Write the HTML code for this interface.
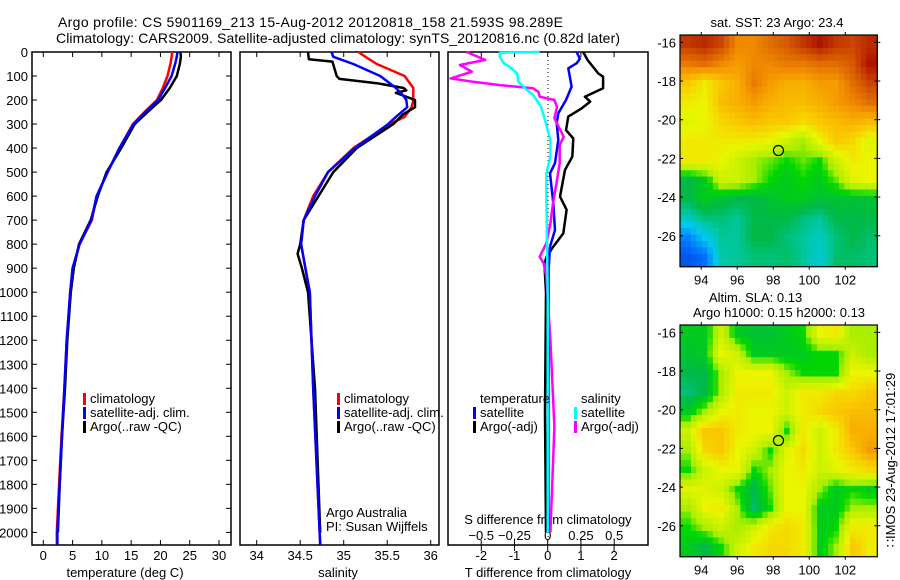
<!DOCTYPE html>
<html><head><meta charset="utf-8"><style>
body{margin:0;background:#fff;}
svg{display:block;font-family:"Liberation Sans",sans-serif;}
</style></head><body>
<svg id="fig" width="900" height="580" viewBox="0 0 900 580">
<rect width="900" height="580" fill="#fff"/>
<text x="58" y="27" font-size="14" textLength="505">Argo profile: CS 5901169_213 15-Aug-2012 20120818_158 21.593S 98.289E</text>
<text x="56" y="43" font-size="14" textLength="564">Climatology: CARS2009. Satellite-adjusted climatology: synTS_20120816.nc (0.82d later)</text>
<g id="g"></g>
</svg>
<script>
// ---------- data ----------
const tempDepth=[0,20,50,100,150,200,250,300,400,500,600,700,800,900,1000,1200,1400,1600,1800,2000];
const tempArgo=[23.4,23.5,23.3,22.8,21.6,20.1,17.8,15.6,13.3,10.8,9.3,8.1,6.1,5.2,4.7,4.1,3.7,3.2,2.8,2.5];
const tempClimDepth=[0,20,50,100,150,200,250,300,400,500,600,700,800,900,1000,1200,1400,1600,1800,2000,2050];
const tempClim=[22.0,21.9,21.7,21.2,20.4,19.4,17.3,15.3,13.0,11.0,9.1,8.3,6.2,5.0,4.6,4.0,3.6,3.1,2.7,2.3,2.3];
const tempSat=[22.9,22.8,22.5,21.9,20.8,19.6,17.4,15.4,13.0,11.0,9.1,8.2,6.2,5.0,4.6,4.0,3.6,3.2,2.8,2.4,2.4];
const salArgoDepth=[0,30,40,100,112,130,150,160,170,200,230,260,300,400,500,600,700,800,840,900,1000,1400,2000];
const salArgo=[34.59,34.6,34.87,34.92,34.95,35.38,35.69,35.72,35.6,35.82,35.82,35.68,35.57,35.15,34.88,34.71,34.54,34.5,34.47,34.52,34.59,34.67,34.73];
const salClimDepth=[0,20,50,100,150,180,200,230,270,300,400,500,600,700,800,900,1000,1400,2050];
const salClim=[35.17,35.25,35.38,35.7,35.8,35.8,35.8,35.78,35.7,35.53,35.11,34.82,34.65,34.54,34.51,34.56,34.61,34.65,34.73];
const salSat=[34.86,34.88,35.11,35.42,35.6,35.68,35.72,35.73,35.6,35.51,35.13,34.82,34.67,34.54,34.51,34.56,34.61,34.65,34.73];
const tdArgoDepth=[0,33,89,103,151,186,207,235,269,325,360,436,491,602,657,755,810,852,880,1000,1500,2000];
const tdArgo=[1.07,1.2,1.52,1.67,1.67,1.12,1.28,1.02,0.62,0.55,0.77,0.74,0.52,0.37,0.57,0.47,0.17,-0.03,-0.1,-0.05,-0.08,-0.05];
const tdSatDepth=[0,28,47,68,144,200,255,297,366,463,505,630,741,810,900,1500,2000];
const tdSat=[0.87,0.97,0.87,0.62,0.72,0.55,0.32,0.27,0.32,0.22,0.07,0.17,0.22,0.07,0.03,0.02,0.02];
const sdArgoDepth=[0,33,54,82,110,124,138,151,166,186,200,228,276,353,387,463,533,630,713,796,852,880,935,1200,1560,2000];
const sdArgo=[-0.61,-0.47,-0.66,-0.57,-0.73,-0.56,-0.36,-0.11,-0.07,-0.06,0.05,0.07,0.05,0.12,0.09,0.09,0.07,0.04,0.02,-0.01,-0.06,-0.03,-0.01,0.02,0.05,0.02];
const sdSatDepth=[0,3,20,47,60,89,124,151,179,228,283,366,436,505,602,1000,2000];
const sdSat=[-0.06,-0.36,-0.36,-0.33,-0.29,-0.23,-0.22,-0.17,-0.11,-0.05,-0.02,0.02,0.02,-0.01,-0.01,0.0,0.0];
const depthTicks=[0,100,200,300,400,500,600,700,800,900,1000,1100,1200,1300,1400,1500,1600,1700,1800,1900,2000];
const tempTicks=[0,5,10,15,20,25,30];
const salTicks=[34,34.5,35,35.5,36];
const tdTicks=[-2,-1,0,1,2];
const sdTicks=[-0.5,-0.25,0,0.25,0.5];
const latTicks=[-16,-18,-20,-22,-24,-26];
const lonTicks=[94,96,98,100,102];
const argoLon=98.289, argoLat=-21.593;
const sstGrid=[
[.9,.92,.88,.78,.78,.82,.85,.9,.95,.9,.88,.92],
[.8,.82,.78,.75,.78,.78,.8,.8,.82,.82,.85,.95],
[.68,.62,.68,.72,.8,.75,.72,.72,.75,.75,.82,.88],
[.62,.6,.7,.72,.75,.72,.7,.7,.72,.75,.78,.82],
[.58,.6,.65,.68,.7,.68,.68,.65,.68,.7,.72,.7],
[.62,.62,.62,.62,.62,.6,.55,.5,.6,.68,.65,.58],
[.62,.62,.6,.55,.5,.48,.45,.48,.45,.55,.62,.6],
[.38,.42,.55,.55,.5,.45,.42,.45,.42,.48,.58,.6],
[.38,.42,.4,.38,.38,.4,.42,.42,.4,.4,.4,.4],
[.3,.35,.35,.33,.38,.38,.38,.35,.33,.38,.38,.38],
[.15,.25,.33,.33,.38,.38,.35,.33,.3,.35,.38,.36],
[.08,.12,.32,.33,.35,.35,.36,.33,.28,.36,.36,.35]];
const slaGrid=[
[.42,.42,.55,.42,.4,.4,.42,.45,.6,.62,.5,.5],
[.4,.42,.6,.55,.42,.42,.42,.42,.45,.45,.55,.5],
[.38,.38,.5,.6,.6,.6,.5,.45,.45,.45,.6,.6],
[.35,.38,.5,.62,.62,.62,.55,.62,.62,.65,.65,.68],
[.42,.5,.6,.62,.6,.6,.55,.62,.65,.68,.7,.7],
[.55,.68,.68,.62,.6,.6,.45,.62,.55,.62,.72,.72],
[.5,.65,.68,.6,.55,.45,.58,.65,.55,.62,.68,.75],
[.45,.55,.6,.6,.45,.5,.6,.62,.55,.58,.62,.65],
[.58,.58,.55,.45,.38,.48,.6,.6,.5,.42,.45,.42],
[.5,.6,.62,.5,.36,.45,.6,.6,.42,.42,.5,.5],
[.45,.5,.55,.5,.55,.62,.65,.62,.42,.45,.62,.62],
[.42,.38,.45,.55,.62,.65,.65,.62,.42,.5,.68,.62]];

// ---------- drawing ----------
const NS="http://www.w3.org/2000/svg";
const G=document.getElementById('g');
function el(tag,at,parent){const e=document.createElementNS(NS,tag);for(const k in at)e.setAttribute(k,at[k]);(parent||G).appendChild(e);return e;}
function txt(x,y,s,size,anchor,parent){const t=el('text',{x:x,y:y,'font-size':size||13,'text-anchor':anchor||'start'},parent);t.textContent=s;return t;}
const yD=d=>52+d*0.2402;
const xT=v=>43.3+v*5.857;
const xS=v=>256.7+(v-34)*87;
const xTD=v=>547.7+v*33.2;
const xSD=v=>547.7+v*133;

function frame(x0,x1,name){const r=el('rect',{x:x0,y:52,width:x1-x0,height:493,fill:'none',stroke:'#000','stroke-width':1.5});

}
frame(32,231,'temperature-panel');frame(240,439,'salinity-panel');frame(448,648,'difference-panel');

const yax=el('g',{});


depthTicks.forEach(d=>{const y=yD(d);
 el('line',{x1:32,x2:37,y1:y,y2:y,stroke:'#000'},yax);el('line',{x1:226,x2:231,y1:y,y2:y,stroke:'#000'},yax);
 txt(28,y+5,String(d),13,'end',yax);});

function xaxis(ticks,fx,fmt,name,label,labelX){const g=el('g',{});
 
 
 ticks.forEach(v=>{const x=fx(v);el('line',{x1:x,x2:x,y1:545,y2:540,stroke:'#000'},g);el('line',{x1:x,x2:x,y1:52,y2:57,stroke:'#000'},g);txt(x,560,fmt(v),13,'middle',g);});
 txt(labelX,577,label,13,'middle',g);}
xaxis(tempTicks,xT,String,'temperature-axis','temperature (deg C)',125);
xaxis(salTicks,xS,String,'salinity-axis','salinity',338);
const dax=el('g',{});


tdTicks.forEach(v=>{const x=xTD(v);el('line',{x1:x,x2:x,y1:545,y2:551,stroke:'#000'},dax);el('line',{x1:x,x2:x,y1:52,y2:57,stroke:'#000'},dax);txt(x,560,String(v),13,'middle',dax);});
sdTicks.forEach(v=>{const x=xSD(v);el('line',{x1:x,x2:x,y1:545,y2:540,stroke:'#000'},dax);txt(x,540,v===0?'0':String(v).replace('-','\u2212'),13,'middle',dax);});
txt(548,524,'S difference from climatology',13,'middle',dax);
txt(548,577,'T difference from climatology',13,'middle',dax);
const zl=el('line',{x1:548,x2:548,y1:52,y2:545,stroke:'#000','stroke-dasharray':'1,3'});



function series(depths,vals,fx,color,name,w){const pts=depths.map((d,i)=>fx(vals[i]).toFixed(1)+','+yD(d).toFixed(1)).join(' ');
 const p=el('polyline',{points:pts,fill:'none',stroke:color,'stroke-width':w||2.5,'stroke-linejoin':'round'});
 
 }
series(tempClimDepth,tempClim,xT,'#f00','temp-climatology-line');
series(tempDepth,tempArgo,xT,'#000','temp-argo-line');
series(tempClimDepth,tempSat,xT,'#00f','temp-satellite-line');
series(salClimDepth,salClim,xS,'#f00','sal-climatology-line');
series(salArgoDepth,salArgo,xS,'#000','sal-argo-line');
series(salClimDepth,salSat,xS,'#00f','sal-satellite-line');
series(tdArgoDepth,tdArgo,xTD,'#000','tdiff-argo-line');
series(tdSatDepth,tdSat,xTD,'#00f','tdiff-satellite-line');
series(sdArgoDepth,sdArgo,xSD,'#f0f','sdiff-argo-line');
series(sdSatDepth,sdSat,xSD,'#0ff','sdiff-satellite-line');

function legend(x,y,items,name){const g=el('g',{});
 
 
 items.forEach((it,i)=>{const yy=y+i*14;if(it[1])el('rect',{x:x,y:yy-10,width:3,height:12,fill:it[1]},g);txt(x+7,yy,it[0],13,'start',g);});}
legend(83,403,[['climatology','#f00'],['satellite-adj. clim.','#00f'],['Argo(..raw -QC)','#000']],'temp-legend');
legend(337,403,[['climatology','#f00'],['satellite-adj. clim.','#00f'],['Argo(..raw -QC)','#000']],'sal-legend');
legend(473,403,[['temperature',null],['satellite','#00f'],['Argo(-adj)','#000']],'tdiff-legend');
legend(574,403,[['salinity',null],['satellite','#0ff'],['Argo(-adj)','#f0f']],'sdiff-legend');
const cr=el('g',{});


txt(326,517,'Argo Australia',13,'start',cr);txt(326,531,'PI: Susan Wijffels',13,'start',cr);

// ---------- maps ----------
const cmStops=[[0,0,40,190],[.12,0,110,255],[.25,0,200,240],[.32,0,200,170],[.38,0,185,70],[.45,0,215,0],[.5,170,238,0],[.6,235,245,0],[.68,250,200,0],[.76,245,150,0],[.85,215,90,0],[.95,175,20,0],[1,160,0,0]];
function cmap(v){for(let i=1;i<cmStops.length;i++){const a=cmStops[i-1],b=cmStops[i];if(v<=b[0]){const t=(v-a[0])/(b[0]-a[0]);return 'rgb('+[1,2,3].map(k=>Math.round(a[k]+(b[k]-a[k])*t)).join(',')+')';}}return 'rgb(160,0,0)';}
const lonMin=92.82,lonMax=103.78,latMax=-15.62,latMin=-27.6;
const SUB=3;
function sample(grid,r,c){const nr=grid.length,nc=grid[0].length;
 const rr=Math.max(0,Math.min(nr-1,r)),cc=Math.max(0,Math.min(nc-1,c));
 const r0=Math.floor(rr),c0=Math.floor(cc),r1=Math.min(nr-1,r0+1),c1=Math.min(nc-1,c0+1),fr=rr-r0,fc=cc-c0;
 return grid[r0][c0]*(1-fr)*(1-fc)+grid[r0][c1]*(1-fr)*fc+grid[r1][c0]*fr*(1-fc)+grid[r1][c1]*fr*fc;}
function drawMap(top,grid,name,cellName){const bottom=top+231.7,left=680,right=877.3;
 const xL=l=>left+(l-lonMin)/(lonMax-lonMin)*(right-left);
 const yL=l=>top+(latMax-l)/(latMax-latMin)*(bottom-top);
 const g=el('g',{});
 
 
 const nr=grid.length*SUB,nc=grid[0].length*SUB;
 for(let r=0;r<nr;r++)for(let c=0;c<nc;c++){
  const v=sample(grid,(r+0.5)/SUB-0.5,(c+0.5)/SUB-0.5);
  const la0=latMax-(latMax-latMin)*r/nr,la1=latMax-(latMax-latMin)*(r+1)/nr;
  const lo0=lonMin+(lonMax-lonMin)*c/nc,lo1=lonMin+(lonMax-lonMin)*(c+1)/nc;
  const x0=xL(lo0),y0=yL(la0);
  const rc=el('rect',{x:x0.toFixed(1),y:y0.toFixed(1),width:(xL(lo1)-x0+0.6).toFixed(1),height:(yL(la1)-y0+0.6).toFixed(1),fill:cmap(v)},g);
  
  }
 el('rect',{x:left,y:top,width:right-left,height:bottom-top,fill:'none',stroke:'#000','stroke-width':1.2},g);
 latTicks.forEach(l=>{const y=yL(l);el('line',{x1:left,x2:left+3,y1:y,y2:y,stroke:'#000'},g);el('line',{x1:right-3,x2:right+3,y1:y,y2:y,stroke:'#000'},g);txt(676,y+5,String(l),13,'end',g);});
 lonTicks.forEach(l=>{const x=xL(l);el('line',{x1:x,x2:x,y1:top-3,y2:top,stroke:'#000'},g);el('line',{x1:x,x2:x,y1:bottom,y2:bottom+3,stroke:'#000'},g);txt(x,bottom+18,String(l),13,'middle',g);});
 const m=el('circle',{cx:xL(argoLon),cy:yL(argoLat),r:5,fill:'none',stroke:'#000','stroke-width':1.2},g);
 
 }
drawMap(35,sstGrid,'sst-map','sst-cell');
drawMap(325,slaGrid,'sla-map','sla-cell');
const mt=el('g',{});


txt(777,27,'sat. SST: 23 Argo: 23.4',13,'middle',mt);
txt(709,302,'Altim. SLA: 0.13',13,'start',mt);
txt(693,317,'Argo h1000: 0.15 h2000: 0.13',13,'start',mt);
const im=txt(0,0,'\u2237IMOS 23-Aug-2012 17:01:29',13,'middle');
im.setAttribute('transform','translate(895,460) rotate(-90)');


</script>
</body></html>
